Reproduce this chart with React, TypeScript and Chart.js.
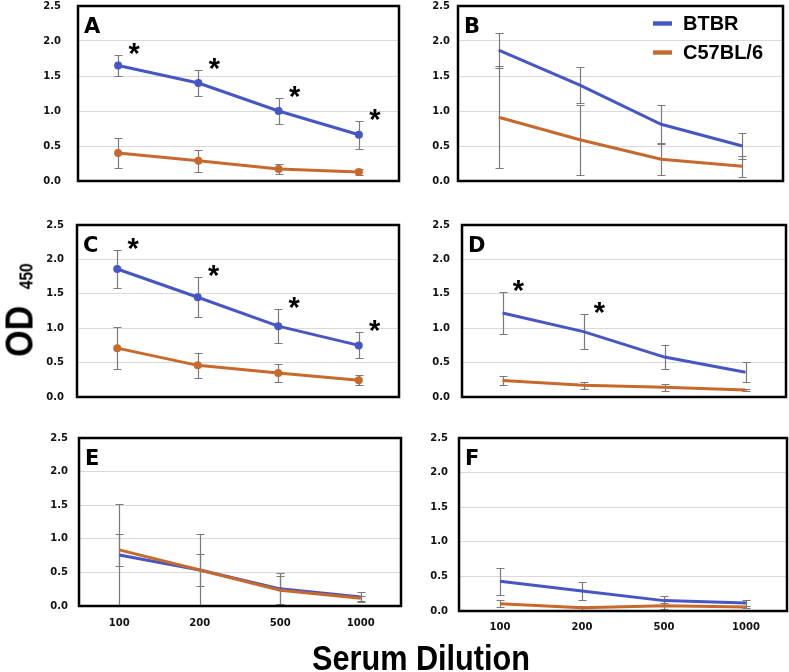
import React, { useEffect, useRef } from 'react';
import { Chart, registerables } from 'chart.js';
Chart.register(...registerables);

// ---- data ----
const dilutions = ['100', '200', '500', '1000'];
const seriesNames = ['BTBR', 'C57BL/6'];

const btbrA = [1.65, 1.40, 1.00, 0.66];
const btbrErrA = [0.15, 0.19, 0.18, 0.20];
const c57A = [0.40, 0.29, 0.17, 0.13];
const c57ErrA = [0.22, 0.155, 0.07, 0.045];
const sigA = [true, true, true, true];

const btbrB = [1.87, 1.37, 0.81, 0.50];
const btbrErrB = [0.25, 0.26, 0.27, 0.19];
const c57B = [0.91, 0.59, 0.31, 0.21];
const c57ErrB = [0.73, 0.50, 0.22, 0.15];
const sigB = [false, false, false, false];

const btbrC = [1.86, 1.45, 1.03, 0.75];
const btbrErrC = [0.27, 0.29, 0.25, 0.19];
const c57C = [0.71, 0.46, 0.35, 0.245];
const c57ErrC = [0.31, 0.185, 0.13, 0.07];
const sigC = [true, true, true, true];

const btbrD = [1.22, 0.95, 0.58, 0.36];
const btbrErrD = [0.31, 0.255, 0.175, 0.145];
const c57D = [0.24, 0.17, 0.14, 0.10];
const c57ErrD = [0.07, 0.05, 0.05, 0.02];
const sigD = [true, true, false, false];

const btbrE = [0.76, 0.535, 0.255, 0.135];
const btbrErrE = [0.76, 0.535, 0.23, 0.07];
const c57E = [0.835, 0.535, 0.235, 0.115];
const c57ErrE = [0.235, 0.235, 0.215, 0.035];
const sigE = [false, false, false, false];

const btbrF = [0.43, 0.29, 0.15, 0.115];
const btbrErrF = [0.195, 0.135, 0.07, 0.04];
const c57F = [0.105, 0.048, 0.077, 0.058];
const c57ErrF = [0.05, 0.03, 0.045, 0.02];
const sigF = [false, false, false, false];

const BLUE = '#4656c4';
const ORANGE = '#c8692c';
const ERR = '#7a7a7a';

const errorBarPlugin = {
  id: 'errorBars',
  beforeDatasetsDraw(chart: any) {
    const ctx = chart.ctx;
    const ys = chart.scales.y;
    ctx.save();
    ctx.strokeStyle = ERR;
    ctx.lineWidth = 1.2;
    chart.data.datasets.forEach((ds: any, di: number) => {
      const meta = chart.getDatasetMeta(di);
      (ds.errors || []).forEach((e: number, i: number) => {
        const v = ds.data[i];
        const pt = meta.data[i];
        if (!pt) return;
        const x = Math.round(pt.x) + 0.5;
        const yT = Math.round(ys.getPixelForValue(v + e)) + 0.5;
        const yB = Math.round(ys.getPixelForValue(Math.max(0, v - e))) + 0.5;
        ctx.beginPath();
        ctx.moveTo(x, yT); ctx.lineTo(x, yB);
        ctx.moveTo(x - 4, yT); ctx.lineTo(x + 4, yT);
        ctx.moveTo(x - 4, yB); ctx.lineTo(x + 4, yB);
        ctx.stroke();
      });
    });
    ctx.restore();
  },
};

const decoPlugin = {
  id: 'deco',
  afterDraw(chart: any, _args: any, opts: any) {
    const ctx = chart.ctx;
    const a = chart.chartArea;
    const ys = chart.scales.y;
    ctx.save();
    // asterisks
    const ds0 = chart.data.datasets[0];
    const meta0 = chart.getDatasetMeta(0);
    ctx.font = 'bold 100px "Liberation Sans"';
    const m100 = ctx.measureText('*');
    const h100 = m100.actualBoundingBoxAscent + m100.actualBoundingBoxDescent;
    const size = (11 / h100) * 100;
    ctx.font = `bold ${size}px "Liberation Sans"`;
    const m = ctx.measureText('*');
    ctx.fillStyle = '#000';
    ctx.textAlign = 'center';
    ctx.textBaseline = 'alphabetic';
    (opts.sig || []).forEach((s: boolean, i: number) => {
      if (!s) return;
      const pt = meta0.data[i];
      const top = ys.getPixelForValue(ds0.data[i] + ds0.errors[i]);
      const cx = pt.x + 16;
      const cy = top - 6;
      const base = cy + (m.actualBoundingBoxAscent - m.actualBoundingBoxDescent) / 2;
      ctx.fillText('*', cx, base);
    });
    // panel letter
    ctx.textAlign = 'left';
    ctx.font = 'bold 21px "DejaVu Sans"';
    ctx.fillText(opts.letter, a.left + 6, a.top + 27);
    // legend
    if (opts.legend) {
      const rows = [
        { name: seriesNames[0], color: BLUE, y: a.top + 17.5 },
        { name: seriesNames[1], color: ORANGE, y: a.top + 46.5 },
      ];
      ctx.font = 'bold 20px "Liberation Sans"';
      ctx.textBaseline = 'middle';
      rows.forEach((r) => {
        ctx.fillStyle = r.color;
        ctx.fillRect(a.right - 130, r.y - 2.2, 19, 4.4);
        ctx.fillStyle = '#000';
        ctx.fillText(r.name, a.right - 100, r.y + 1);
      });
    }
    // frame
    ctx.strokeStyle = '#000';
    ctx.lineWidth = 2.5;
    ctx.strokeRect(a.left, a.top, a.right - a.left, a.bottom - a.top);
    ctx.restore();
  },
};

type PanelCfg = {
  letter: string;
  btbr: number[]; btbrErr: number[];
  c57: number[]; c57Err: number[];
  sig: boolean[];
  markers: boolean;
  legend: boolean;
  showX: boolean;
  L: number; T: number; W: number; H: number;
  pad: number; xpad: number;
};

const YW = 50;
const TOPPAD = 8;
const RPAD = 4;

function Panel({ cfg }: { cfg: PanelCfg }) {
  const ref = useRef<HTMLCanvasElement | null>(null);
  const xh = cfg.showX ? 30 : 4;
  const cw = YW + cfg.W + RPAD;
  const chh = TOPPAD + cfg.H + xh;
  useEffect(() => {
    if (!ref.current) return;
    const r = cfg.markers ? 4 : 0;
    const chart = new Chart(ref.current, {
      type: 'line',
      data: {
        labels: dilutions,
        datasets: [
          {
            label: seriesNames[0], data: cfg.btbr, errors: cfg.btbrErr,
            borderColor: BLUE, backgroundColor: BLUE, borderWidth: 3,
            pointRadius: r, pointBorderWidth: 0, pointBackgroundColor: BLUE,
            tension: 0, order: 1,
          } as any,
          {
            label: seriesNames[1], data: cfg.c57, errors: cfg.c57Err,
            borderColor: ORANGE, backgroundColor: ORANGE, borderWidth: 3,
            pointRadius: r, pointBorderWidth: 0, pointBackgroundColor: ORANGE,
            tension: 0, order: 0,
          } as any,
        ],
      },
      options: {
        animation: false,
        responsive: false,
        maintainAspectRatio: false,
        layout: { padding: { top: TOPPAD, right: RPAD, left: 0, bottom: 0 } },
        plugins: {
          legend: { display: false },
          tooltip: { enabled: false },
          deco: { letter: cfg.letter, sig: cfg.sig, legend: cfg.legend },
        } as any,
        scales: {
          x: {
            type: 'category',
            offset: true,
            grid: { display: false, drawTicks: false },
            border: { display: false },
            ticks: {
              display: cfg.showX,
              padding: cfg.xpad,
              color: '#111',
              font: { family: 'DejaVu Sans', weight: 'bold', size: 10 },
              maxRotation: 0,
            },
            afterFit: (s: any) => { s.height = xh; s.paddingLeft = 0; s.paddingRight = 0; },
          },
          y: {
            min: 0, max: 2.5,
            grid: { color: '#d9d9d9', lineWidth: 1, drawTicks: false },
            border: { display: false },
            ticks: {
              stepSize: 0.5,
              padding: cfg.pad,
              color: '#111',
              font: { family: 'DejaVu Sans', weight: 'bold', size: 10 },
              callback: (v: any) => Number(v).toFixed(1),
            },
            afterFit: (s: any) => { s.width = YW; s.paddingTop = 0; s.paddingBottom = 0; },
          },
        },
      },
      plugins: [errorBarPlugin, decoPlugin],
    } as any);
    return () => chart.destroy();
  }, []);
  return (
    <canvas
      ref={ref}
      width={cw}
      height={chh}
      style={{ position: 'absolute', left: cfg.L - YW, top: cfg.T - TOPPAD, width: cw, height: chh }}
    />
  );
}

const panels: PanelCfg[] = [
  { letter: 'A', btbr: btbrA, btbrErr: btbrErrA, c57: c57A, c57Err: c57ErrA, sig: sigA, markers: true, legend: false, showX: false, L: 78, T: 6, W: 321, H: 175, pad: 17, xpad: 10 },
  { letter: 'B', btbr: btbrB, btbrErr: btbrErrB, c57: c57B, c57Err: c57ErrB, sig: sigB, markers: false, legend: true, showX: false, L: 458, T: 6, W: 325, H: 175, pad: 8, xpad: 10 },
  { letter: 'C', btbr: btbrC, btbrErr: btbrErrC, c57: c57C, c57Err: c57ErrC, sig: sigC, markers: true, legend: false, showX: false, L: 77, T: 225, W: 322, H: 172, pad: 13, xpad: 10 },
  { letter: 'D', btbr: btbrD, btbrErr: btbrErrD, c57: c57D, c57Err: c57ErrD, sig: sigD, markers: false, legend: false, showX: false, L: 462, T: 225, W: 324, H: 172, pad: 12, xpad: 10 },
  { letter: 'E', btbr: btbrE, btbrErr: btbrErrE, c57: c57E, c57Err: c57ErrE, sig: sigE, markers: false, legend: false, showX: true, L: 79, T: 438, W: 322, H: 168, pad: 11, xpad: 11 },
  { letter: 'F', btbr: btbrF, btbrErr: btbrErrF, c57: c57F, c57Err: c57ErrF, sig: sigF, markers: false, legend: false, showX: true, L: 459, T: 438, W: 328, H: 173, pad: 11, xpad: 10 },
];

export default function App() {
  return (
    <div style={{ position: 'fixed', left: 0, top: 0, width: 789, height: 672, overflow: 'hidden', background: '#fff' }}>
      {panels.map((p) => <Panel key={p.letter} cfg={p} />)}
      <div
        style={{
          position: 'absolute', left: 18.5, top: 310,
          transform: 'translate(-50%, -50%) rotate(-90deg) scaleX(0.87)',
          whiteSpace: 'nowrap', lineHeight: 1,
          fontFamily: '"Liberation Sans", Arial, sans-serif', fontWeight: 'bold', fontSize: 39, color: '#000',
        }}
      >
        <span>OD</span>
        <span style={{ fontSize: 18, marginLeft: 19 }}>450</span>
      </div>
      <div
        style={{
          position: 'absolute', left: 312, top: 639.5,
          transform: 'scaleX(0.876)', transformOrigin: 'left top',
          whiteSpace: 'nowrap', lineHeight: 1,
          fontFamily: '"Liberation Sans", Arial, sans-serif', fontWeight: 'bold', fontSize: 35, color: '#000',
        }}
      >
        Serum Dilution
      </div>
    </div>
  );
}
